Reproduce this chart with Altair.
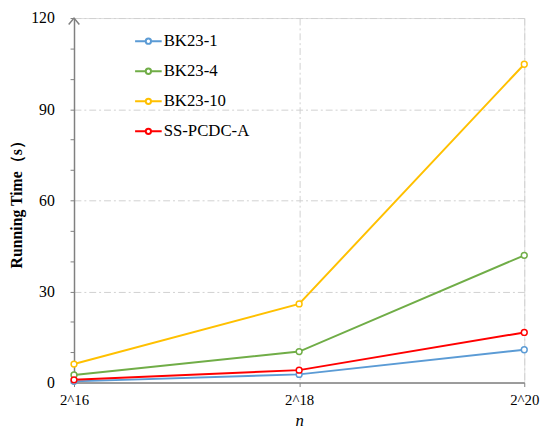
import altair as alt
import pandas as pd

categories = ["2^16", "2^18", "2^20"]
series_names = ["BK23-1", "BK23-4", "BK23-10", "SS-PCDC-A"]
bk23_1 = [0.4, 2.7, 10.8]
bk23_4 = [2.5, 10.2, 41.9]
bk23_10 = [6.1, 25.9, 104.8]
ss_pcdc_a = [0.9, 4.1, 16.5]
colors = ["#5B9BD5", "#70AD47", "#FFC000", "#FF0000"]
y_ticks = list(range(0, 121, 10))

rows = []
for name, vals in zip(series_names, [bk23_1, bk23_4, bk23_10, ss_pcdc_a]):
    for c, v in zip(categories, vals):
        rows.append({"n": c, "time": v, "series": name})
df = pd.DataFrame(rows)

FONT = "Liberation Serif"
GREY = "#808080"
GRID = "#d0d0d0"

legend_path = ("M-1,0L-0.2,0M0.2,0L1,0"
               "M0.2,0A0.2,0.2,0,1,1,-0.2,0A0.2,0.2,0,1,1,0.2,0")

x_enc = alt.X(
    "n:O",
    sort=categories,
    scale=alt.Scale(type="point", padding=0),
    axis=alt.Axis(
        title="n",
        titleFont=FONT,
        titleFontSize=17,
        titleFontStyle="italic",
        titleFontWeight="normal",
        titleColor="black",
        titlePadding=6,
        labelAngle=0,
        labelFont=FONT,
        labelFontSize=15,
        labelColor="black",
        labelPadding=6,
        tickSize=4,
        tickColor=GREY,
        domainColor=GREY,
        domainWidth=1.5,
        grid=True,
        gridColor=GRID,
        gridDash=[7, 3, 2, 3],
        gridWidth=1,
    ),
)

y_enc = alt.Y(
    "time:Q",
    scale=alt.Scale(domain=[0, 120], nice=False),
    axis=alt.Axis(
        title="Running Time（s）",
        titleFont=FONT,
        titleFontSize=16,
        titleFontWeight="bold",
        titlePadding=6,
        titleColor="black",
        values=y_ticks,
        labelExpr="datum.value % 30 == 0 ? datum.label : ''",
        labelOverlap=False,
        labelFont=FONT,
        labelFontSize=16,
        labelColor="black",
        labelPadding=16,
        tickSize=4,
        tickColor=GREY,
        tickWidth=1,
        domainColor=GREY,
        domainWidth=1.5,
        grid=True,
        gridColor=GRID,
        gridDash=[7, 3, 2, 3],
        gridWidth=1,
        gridOpacity={"condition": {"test": "datum.value % 30 == 0 && datum.value > 0", "value": 1}, "value": 0},
    ),
)

color_enc = alt.Color(
    "series:N",
    sort=series_names,
    scale=alt.Scale(domain=series_names, range=colors),
    legend=alt.Legend(
        title=None,
        orient="none",
        legendX=61,
        legendY=9,
        symbolType=legend_path,
        symbolSize=729,
        symbolStrokeWidth=2,
        symbolFillColor="white",
        labelFont=FONT,
        labelFontSize=17,
        labelColor="black",
        labelOffset=1,
        rowPadding=7.5,
        padding=0,
    ),
)

base = alt.Chart(df)
lines = base.mark_line(strokeWidth=2).encode(x=x_enc, y=y_enc, color=color_enc)
points = base.mark_point(filled=False, fill="white", fillOpacity=1, size=35, strokeWidth=1.5, opacity=1).encode(
    x=x_enc, y=y_enc, color=color_enc
)

arrow = alt.Chart(pd.DataFrame({"time": [120]})).mark_point(
    shape="M-0.9,1.1L0,0L0.9,1.1", size=144, filled=False, stroke=GREY, strokeWidth=1.5, opacity=1
).encode(x=alt.value(0), y=y_enc)

chart = (
    alt.layer(lines, points, arrow)
    .properties(
        width=457,
        height=370,
        autosize=alt.AutoSizeParams(type="none"),
        padding={"left": 67, "top": 7, "right": 18, "bottom": 50},
    )
    .configure_view(stroke=None)
    .configure(background="white")
)

chart.save("out.html", embed_options={"renderer": "svg", "actions": False})
